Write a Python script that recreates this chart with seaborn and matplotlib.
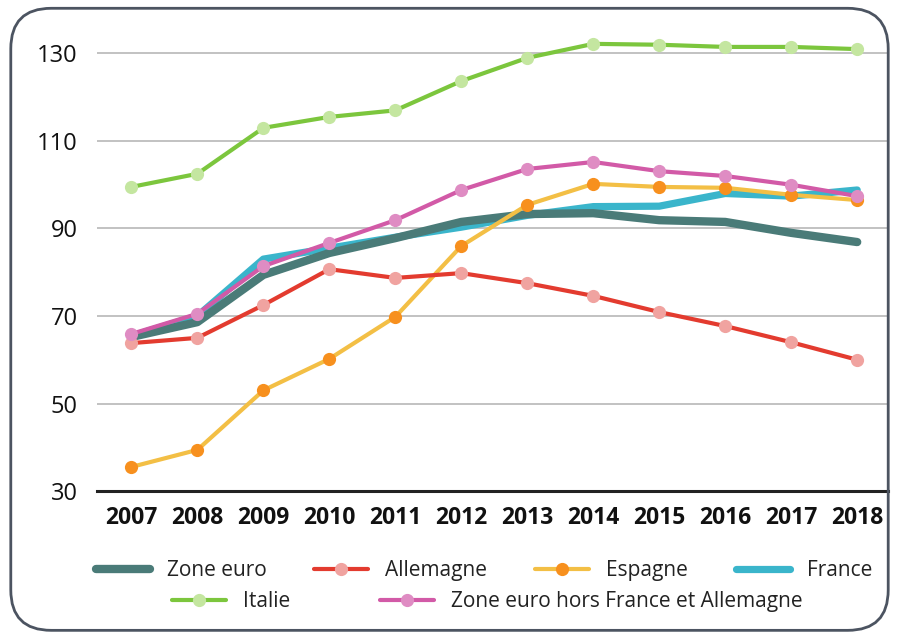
import matplotlib
matplotlib.use("Agg")
import matplotlib.pyplot as plt
from matplotlib.lines import Line2D
from matplotlib.patches import FancyBboxPatch
import seaborn as sns

# Données
years = list(range(2007, 2019))
zone_euro = [65.2, 68.6, 79.4, 84.4, 87.8, 91.5, 93.3, 93.5, 91.9, 91.5, 89.0, 86.9]
allemagne = [63.8, 65.0, 72.5, 80.7, 78.7, 79.8, 77.5, 74.6, 70.9, 67.7, 64.0, 60.0]
espagne = [35.5, 39.4, 53.0, 60.2, 69.8, 86.0, 95.4, 100.2, 99.5, 99.3, 97.7, 96.5]
france = [65.4, 70.0, 83.0, 85.5, 88.0, 90.3, 93.0, 95.0, 95.1, 98.0, 97.4, 98.8]
italie = [99.5, 102.5, 113.0, 115.5, 117.0, 123.7, 129.0, 132.2, 132.0, 131.5, 131.5, 131.0]
ze_hors = [65.9, 70.5, 81.4, 86.7, 91.9, 98.8, 103.6, 105.2, 103.1, 102.0, 100.0, 97.4]
y_ticks = [30, 50, 70, 90, 110, 130]

sns.set_theme(style="white")
plt.rcParams['font.family'] = ['Open Sans', 'DejaVu Sans']

fig = plt.figure(figsize=(8.99, 6.38), dpi=100)
ax = fig.add_axes([0.108, 0.2304, 0.88, 0.7132])

# séries épaisses sans marqueurs
sns.lineplot(x=years, y=france, ax=ax, color='#3ab5cb', linewidth=5.2,
             solid_capstyle='round')
sns.lineplot(x=years, y=zone_euro, ax=ax, color='#4a7b78', linewidth=6,
             solid_capstyle='round')

# séries avec marqueurs
marked = [
    (espagne, '#f3bf45', '#f7901e'),
    (allemagne, '#e33b2f', '#f0a3a0'),
    (italie, '#7cc63d', '#c4e6a0'),
    (ze_hors, '#d25aa7', '#df8cc3'),
]
for vals, lc, mc in marked:
    sns.lineplot(x=years, y=vals, ax=ax, color=lc, linewidth=3,
                 marker='o', markersize=9.5, markerfacecolor=mc,
                 markeredgecolor=mc, markeredgewidth=0)

ax.set_xlim(2006.48, 2018.47)
ax.set_ylim(30, 134)
ax.set_yticks(y_ticks)
ax.set_xticks(years)
ax.set_xticklabels([str(y) for y in years], fontsize=16.5, fontweight='bold',
                   color='#111111')
ax.set_yticklabels([str(v) for v in y_ticks], fontsize=17, color='#111111',
                   fontweight='medium')
ax.tick_params(axis='x', length=0, pad=11)
ax.tick_params(axis='y', length=0, pad=14)
ax.grid(axis='y', color='#b8b8b8', linewidth=1.2)
ax.grid(axis='x', visible=False)
for s in ['top', 'right', 'left']:
    ax.spines[s].set_visible(False)
ax.spines['bottom'].set_color('#222222')
ax.spines['bottom'].set_linewidth(2.2)
ax.set_xlabel('')
ax.set_ylabel('')

# légende en deux lignes
def handle(lc, lw, mc=None):
    if mc is None:
        return Line2D([], [], color=lc, linewidth=lw, solid_capstyle='round')
    return Line2D([], [], color=lc, linewidth=lw, marker='o', markersize=9.5,
                  markerfacecolor=mc, markeredgewidth=0)

row1 = [handle('#4a7b78', 6), handle('#e33b2f', 3, '#f0a3a0'),
        handle('#f3bf45', 3, '#f7901e'), handle('#3ab5cb', 5.2)]
lab1 = ['Zone euro', 'Allemagne', 'Espagne', 'France']
row2 = [handle('#7cc63d', 3, '#c4e6a0'), handle('#d25aa7', 3, '#df8cc3')]
lab2 = ['Italie', 'Zone euro hors France et Allemagne']

leg_kw = dict(frameon=False, fontsize=15, handlelength=2.6, handletextpad=0.8,
              labelcolor='#222222', borderpad=0, loc='center left')
fig.legend(row1, lab1, ncol=4, bbox_to_anchor=(0.095, 0.106),
           columnspacing=2.3, **leg_kw)
fig.legend(row2, lab2, ncol=2, bbox_to_anchor=(0.18, 0.057),
           columnspacing=4.3, **leg_kw)

# cadre arrondi
frame = FancyBboxPatch((0.012, 0.012), 0.976, 0.975,
                       boxstyle='round,pad=0,rounding_size=0.045',
                       transform=fig.transFigure, facecolor='none',
                       edgecolor='#4c5461', linewidth=2, mutation_aspect=899/638)
fig.patches.append(frame)

fig.savefig('out.png', dpi=100)
